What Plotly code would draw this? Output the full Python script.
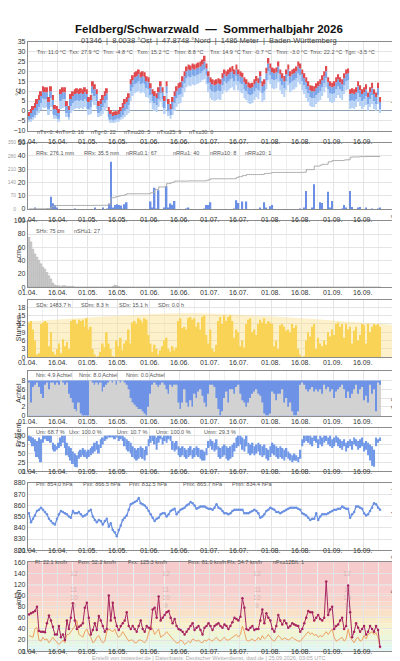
import numpy as np
import pandas as pd
import plotly.graph_objects as go

W, H = 400, 661
ML, MR = 19, 14
FONT = "Liberation Sans, Arial, sans-serif"
GRID = "#e4e4e4"
GRID_MINOR = "#efefef"
FRAME = "#8c8c8c"
DAY_MS = 86400000

# ---------------------------------------------------------------
# daily values 01.04. - 24.09.2026
# ---------------------------------------------------------------
t_max = [
    -0.5, 1, 2.5, 4, 6, 8, 10, 12.5, 12, 12,
    7, 12.5, 8, 3, 2.5, 1, 11, 12, 12, 5,
    2.5, 8.5, 10, 11, 11.5, 11, 11.5, 11, 12, 11,
    7, 8, 15, 13.5, 11, 5, 6, 8, 10, 11.5,
    2, 0.5, -0.7, -0.3, -0.2, 0.5, 2, 4, 6, 7,
    9, 16, 18, 19.5, 20, 21, 19.5, 20, 19.5, 17.5,
    17, 14, 11, 10, 9, 12, 15, 12, 7.5, 15,
    6, 3.5, 7, 10, 12.5, 14, 14.5, 17.5, 20, 22.5,
    23.5, 23, 24, 23.5, 24, 24.5, 25, 26, 27.9, 24,
    20, 17, 16, 15.5, 16, 16.5, 16, 19, 21, 20,
    21, 22, 22.7, 21, 23.5, 21, 20, 19.3, 17, 16,
    14.5, 14, 14.3, 16, 17.7, 16.5, 20, 15, 16, 21.8,
    26.8, 24, 22, 21.5, 22, 25, 21, 19, 17.7, 21,
    23.5, 20, 21, 21.5, 22.5, 25, 24, 21, 19, 17,
    15, 13, 12.7, 12.5, 14, 15, 16, 18, 20, 22.7,
    17, 15, 14.3, 15, 17, 18.5, 17, 16, 19, 21,
    21.5, 11, 11.5, 11, 12, 15, 13, 11, 12, 13.5,
    9.3, 12, 14.3, 11, 9.3, 14.3, 7,
]
t_mean = [
    -2.5, -1, 0.5, 1.5, 3.5, 5.5, 7.5, 10, 9.5, 9.5,
    4.5, 10, 5.5, 1, 0.5, -1, 8.5, 9.5, 9.5, 2.5,
    0.5, 6, 7.5, 8.5, 9, 8.5, 9, 8.5, 9.5, 8.5,
    4.5, 5.5, 12.5, 11, 8.5, 2.5, 3.5, 5.5, 7.5, 9,
    0, -1.5, -2.5, -2, -2, -1.5, 0, 1.5, 3.5, 4.5,
    6.5, 13.5, 15.5, 17, 17.5, 18.5, 17, 17.5, 17, 15,
    14.5, 11.5, 8.5, 7.5, 6.5, 9.5, 12.5, 9.5, 5, 12.5,
    3.5, 1, 4.5, 7.5, 10, 11.5, 12, 15, 17.5, 20,
    21, 20.5, 21.5, 21, 21.5, 22, 22.5, 23.5, 25, 21.5,
    17.5, 14.5, 13.5, 13, 13.5, 14, 13.5, 16.5, 18.5, 17.5,
    18.5, 19.5, 20, 18.5, 21, 18.5, 17.5, 17, 14.5, 13.5,
    12, 11.5, 12, 13.5, 15, 14, 17.5, 12.5, 13.5, 19,
    24, 21.5, 19.5, 19, 19.5, 22.5, 18.5, 16.5, 15, 18.5,
    21, 17.5, 18.5, 19, 20, 22.5, 21.5, 18.5, 16.5, 14.5,
    12.5, 10.5, 10, 10, 11.5, 12.5, 13.5, 15.5, 17.5, 20,
    14.5, 12.5, 12, 12.5, 14.5, 16, 14.5, 13.5, 16.5, 18.5,
    19, 8.5, 9, 8.5, 9.5, 12.5, 10.5, 8.5, 9.5, 11,
    7, 9.5, 11.5, 8.5, 7, 11.5, 4.5,
]
t_min = [
    -4.5, -4, -3, -2, 0, 2, 4, 6.5, 6, 6,
    1, 6.5, 2, -2, -2.5, -4, 5, 6, 6, -1,
    -3, 2.5, 4, 5, 5.5, 5, 5.5, 5, 6, 5,
    1, 2, 9, 7.5, 5, -1, 0, 2, 4, 5.5,
    -3, -4.5, -4.8, -4.5, -4, -4, -3, -2, 0, 1,
    3, 10, 12, 13.5, 14, 15, 13.5, 14, 13.5, 11.5,
    11, 8, 5, 4, 3, 6, 9, 6, 1.5, 9,
    0, -2, 1, 4, 6.5, 8, 8.5, 11.5, 14, 16.5,
    17.5, 17, 18, 17.5, 18, 18.5, 19, 20, 21, 18,
    14, 11, 10, 9.5, 10, 10.5, 10, 13, 15, 14,
    15, 16, 16.5, 15, 17.5, 15, 14, 13.5, 11, 10,
    8.5, 8, 8.5, 10, 11.5, 10.5, 14, 9, 10, 15.5,
    20, 18, 16, 15.5, 16, 19, 15, 13, 11.5, 15,
    17.5, 14, 15, 15.5, 16.5, 19, 18, 15, 13, 11,
    9, 7, 6.5, 6.5, 8, 9, 10, 12, 14, 16.5,
    11, 9, 8.5, 9, 11, 12.5, 11, 10, 13, 15,
    15.5, 5, 5.5, 5, 6, 9, 7, 5, 6, 7.5,
    3.5, 6, 8, 5, 3.5, 8, 1,
]
t_ground = [
    -5, -5, -4, -3, -2, -1, 0.5, 2, 1.5, 2,
    -2, 2, -1.5, -4, -4, -5, 1, 1.5, 2, -3,
    -4, -1, 0, 1, 1.5, 1, 1.5, 1, 2, 1,
    -2, -1.5, 4.5, 3, 1, -3, -2.5, -1.5, 0, 1.5,
    -4.5, -5.5, -6, -5.5, -5, -5, -4.5, -4, -3, -2,
    -1, 5, 7.5, 9, 9.5, 10, 9, 9.5, 9, 7,
    6.5, 4, 1, 0, -0.5, 2, 4.5, 2, -1.5, 4.5,
    -2.5, -4, -2, 0, 2, 3.5, 4, 7, 9.5, 12,
    13, 12.5, 13.5, 13, 13.5, 14, 14.5, 15.5, 16, 13.5,
    9.5, 6.5, 5.5, 5, 5.5, 6, 5.5, 8.5, 10.5, 9.5,
    10.5, 11.5, 12, 10.5, 13, 10.5, 9.5, 9, 6.5, 5.5,
    4, 3.5, 4, 5.5, 7, 6, 9.5, 4.5, 5.5, 11,
    15.5, 13.5, 11.5, 11, 11.5, 14.5, 10.5, 8.5, 7, 10.5,
    13, 9.5, 10.5, 11, 12, 14.5, 13.5, 10.5, 8.5, 6.5,
    4.5, 2.5, 2, 2, 3.5, 4.5, 5.5, 7.5, 9.5, 12,
    6.5, 4.5, 4, 4.5, 6.5, 8, 6.5, 5.5, 8.5, 10.5,
    11, 1, 1.5, 1, 2, 4.5, 2.5, 1, 2, 3,
    0, 2, 3.5, 1, 0, 3.5, -1,
]
precip = [
    0, 0, 0, 0.3, 0, 0, 0, 0, 0, 0.2,
    0.2, 9.2, 4.2, 3, 1, 0, 0, 0, 0, 0,
    0, 0, 0, 0.1, 0, 0, 0, 0, 0, 0,
    0, 0, 0, 0.5, 0, 0, 0, 0.3, 0, 0.2,
    4, 35.5, 0.5, 3, 3.5, 3, 2.5, 0.2, 3.5, 5,
    0, 0, 0, 0, 0, 0, 0, 0, 0, 0,
    0, 5.5, 0.3, 16, 0.2, 14, 0, 0, 0.4, 17,
    0.5, 4, 3, 6, 0, 0, 0, 0, 0, 0.1,
    1, 0, 0, 0, 0, 0, 0, 0, 0.2, 3,
    3, 5, 0, 0, 0, 0, 0, 0, 0, 0,
    0, 0, 0, 0.2, 6.5, 4.5, 0, 5.5, 0, 5.5,
    0, 0, 0, 0, 0, 0, 0.3, 0, 5, 1,
    0, 2, 3, 0, 0, 0, 0, 0, 0, 0,
    0, 0, 0, 0, 0, 0, 0.2, 0, 1, 13.5,
    0, 0, 0.3, 18.5, 0, 0, 5, 4.5, 0, 0,
    13, 0.4, 6, 0, 0, 0, 0, 0.2, 3, 1,
    0, 13.5, 1.5, 0, 0, 0.3, 1.5, 0, 0, 0.5,
    0, 0, 0.2, 0, 0, 0.1, 0.4,
]
snow = [
    75, 68, 57, 50, 45, 40, 35, 30, 27, 22,
    17, 12, 6, 3, 2, 2, 1, 2, 2, 1,
    1, 1, 1, 0, 0, 0, 0, 0, 0, 0,
    0, 0, 0, 0, 0, 0, 0, 0, 0, 0,
    0, 0, 1, 3, 2, 1, 0, 0, 0, 0,
] + [0] * 127
sunshine = [
    12.5, 13, 10, 6, 1, 1.5, 12, 12.5, 13, 12.5,
    4, 9, 2, 1, 3, 5, 1.5, 6.5, 4, 5.5,
    3, 13, 13.5, 13.5, 12, 13.5, 13, 13.5, 11, 14,
    10, 11, 3, 1, 0, 0.5, 2, 5, 3.5, 9,
    5, 3, 0.5, 0, 6, 4, 7, 2.5, 5, 6,
    10, 5, 12.5, 13, 12, 14, 13.5, 12.5, 14, 13.5,
    8, 5, 2, 4.5, 3, 1, 2.5, 4, 6, 7,
    3, 2, 4, 2.5, 3.5, 13, 14, 10.5, 11, 10,
    14, 14.5, 13.5, 14, 11, 12.5, 10, 14.5, 15, 8,
    5, 10, 3, 2, 4.5, 13, 14.5, 12, 15, 13,
    14.5, 15.1, 13, 7, 10, 9, 4, 6, 3.5, 12,
    13.5, 14, 9, 10, 8, 12, 13.5, 12.5, 14, 12,
    13, 12.5, 12, 4, 6, 3, 11.5, 12, 11, 9.5,
    10, 9, 12, 10.5, 11.5, 3, 1, 0, 0.5, 6,
    9, 7.5, 11, 12, 3, 7, 5, 4, 6, 4.5,
    9, 7.5, 10, 8, 12, 12.5, 11, 12, 7, 12,
    10, 11, 5, 9.5, 11, 6, 8, 12, 11.5, 5,
    12, 9, 11, 12, 11.5, 12, 11,
]
# astronomically possible sunshine (day length), h
daylen_dates = ["2026-04-01", "2026-04-16", "2026-05-01", "2026-05-16", "2026-06-01",
                "2026-06-16", "2026-07-01", "2026-07-16", "2026-08-01", "2026-08-16",
                "2026-09-01", "2026-09-16", "2026-10-01"]
daylen_hours = [12.9, 13.6, 14.3, 14.9, 15.5, 15.8, 15.7, 15.3, 14.7, 14.0, 13.2, 12.4, 11.7]

cloud = [
    7.5, 3, 6.5, 7, 7.5, 6.5, 5, 4, 7, 7.5,
    6, 7.5, 7.5, 7, 7.5, 7, 8, 7.5, 7, 7.5,
    5, 4, 3, 1.5, 1, 3, 0.5, 0, 0, 0,
    0, 8, 7.5, 7, 7.5, 7, 7.5, 5.5, 6.5, 7,
    7.5, 8, 7.5, 8, 7, 8, 7.5, 8, 7.5, 7,
    6, 4, 3, 2.5, 2, 1.5, 1.5, 1, 0.5, 0,
    2, 5, 7, 7.5, 7, 6.5, 7, 7.5, 7, 6,
    5, 7, 6.5, 7, 7, 3, 1.5, 3, 6, 3,
    2, 3.5, 2, 5, 4, 5.5, 6, 4.5, 3, 2,
    5, 7, 7, 6.5, 4, 1.5, 0, 1, 4, 5.5,
    3, 6, 6, 5, 6.5, 7, 5, 3.5, 3, 2,
    3, 4, 5, 5.5, 6, 5, 4.5, 3, 0.5, 0,
    0, 0.5, 5.5, 5, 3.5, 5, 5, 6, 3, 4,
    2, 3, 1, 0, 0, 1, 7, 7.5, 7, 6,
    5.5, 6, 6.5, 5.5, 6, 5.5, 6, 5, 7, 6,
    6.5, 5.5, 6, 4, 5.5, 6, 6.5, 7, 6, 4,
    5.5, 4, 5, 6, 7, 5, 6, 6.5, 3.5, 4.5,
    3, 7, 5, 6, 1, 7.5, 7,
]
CLOUD_FULL = 8  # octas

hum_max = [
    100, 98, 95, 90, 85, 95, 90, 100, 100, 100,
    100, 100, 80, 75, 70, 80, 95, 100, 100, 80,
    70, 65, 55, 50, 45, 55, 60, 65, 60, 55,
    60, 65, 70, 80, 85, 75, 90, 95, 100, 100,
    100, 100, 100, 100, 100, 100, 100, 100, 95, 90,
    85, 80, 70, 65, 60, 65, 70, 65, 60, 70,
    90, 100, 100, 100, 95, 100, 100, 95, 100, 100,
    100, 100, 85, 80, 85, 70, 65, 70, 65, 60,
    65, 70, 60, 65, 70, 65, 60, 60, 55, 65,
    85, 90, 85, 80, 90, 70, 65, 70, 75, 70,
    65, 70, 75, 80, 95, 100, 100, 95, 90, 100,
    80, 75, 80, 70, 75, 80, 75, 70, 75, 65,
    60, 70, 80, 75, 70, 65, 70, 65, 60, 65,
    55, 50, 45, 50, 45, 40, 60, 90, 100, 100,
    100, 100, 95, 100, 100, 90, 100, 95, 100, 100,
    95, 100, 90, 95, 100, 95, 90, 85, 90, 80,
    85, 90, 85, 95, 90, 85, 90, 95, 80, 85,
    80, 75, 70, 60, 95, 90, 95,
]
hum_min = [
    85, 80, 70, 55, 40, 35, 25, 80, 90, 85,
    85, 80, 60, 55, 60, 65, 70, 80, 65, 45,
    40, 30, 20, 12, 10.7, 35, 40, 45, 40, 35,
    40, 45, 50, 55, 60, 50, 65, 75, 85, 90,
    95, 97, 95, 90, 95, 85, 90, 85, 70, 60,
    55, 50, 40, 35, 30, 35, 40, 35, 30, 45,
    70, 80, 85, 75, 60, 80, 90, 75, 85, 80,
    90, 85, 60, 55, 60, 45, 40, 45, 40, 35,
    40, 45, 35, 40, 45, 40, 35, 30, 30, 45,
    65, 70, 60, 55, 60, 40, 35, 40, 45, 35,
    30, 35, 40, 55, 65, 70, 75, 60, 55, 70,
    50, 45, 50, 45, 50, 55, 45, 40, 45, 35,
    30, 40, 50, 45, 40, 35, 40, 35, 30, 40,
    35, 30, 25, 30, 29, 25, 35, 70, 80, 85,
    80, 75, 70, 85, 80, 65, 75, 70, 80, 85,
    75, 70, 65, 70, 80, 70, 65, 60, 70, 55,
    65, 70, 60, 75, 70, 60, 65, 70, 55, 60,
    45, 30, 15, 12, 70, 80, 85,
]
pressure = [
    853, 845, 848, 851, 855, 856, 858, 856, 854, 852,
    848, 846, 844, 843, 848, 852, 855, 854, 853, 852,
    850, 849, 855, 853, 853, 854, 852, 850, 851, 852,
    855, 856, 850, 847, 845, 847, 846, 843, 846, 848,
    841, 844, 838, 836, 832.5, 838, 842, 847, 849, 851,
    856, 861, 862, 863, 864, 866.5, 862, 861, 860, 858,
    855, 852, 849, 846, 848, 849, 852, 853, 853, 850,
    852, 855, 856, 857, 852, 854, 856, 857, 858, 860,
    861, 863, 862, 860, 857, 858, 859, 859, 859, 858,
    857, 857, 856, 858, 861, 858, 857, 855, 853, 853,
    852, 853, 855, 856, 856, 856, 856, 856, 853, 853,
    853, 854, 855, 856, 855, 853, 849, 850, 852, 855,
    856, 858, 857, 856, 854, 854, 853, 854, 855, 856,
    857, 858, 858, 858, 858, 857, 856, 853, 852, 851,
    849, 847, 848, 848, 853, 847, 850, 852, 852, 852,
    853, 854, 855, 856, 856, 857, 857, 859, 858, 857,
    857, 849, 852, 854, 859, 859, 858, 857, 853, 851,
    852, 855, 858, 862, 861, 858, 856,
]
wind_gust = [
    66, 68, 70, 72, 80, 36, 35, 35, 34, 50,
    64, 55, 44, 30, 30, 45, 25, 30, 20, 55,
    40, 60, 86, 55, 40, 44, 46, 50, 78, 87,
    60, 30, 38, 50, 38, 63, 55, 45, 35, 40,
    100, 55, 87, 60, 45, 38, 45, 50, 55, 70,
    45, 40, 45, 40, 35, 45, 55, 40, 35, 45,
    42, 40, 75, 78, 60, 98, 55, 60, 65, 70,
    72, 60, 50, 58, 45, 40, 38, 35, 30, 35,
    40, 45, 50, 38, 42, 45, 38, 30, 42, 45,
    50, 45, 38, 45, 48, 50, 45, 42, 48, 45,
    40, 45, 52, 60, 58, 55, 62, 95, 78, 40,
    38, 42, 45, 38, 40, 40, 55, 75, 50, 68,
    60, 55, 40, 35, 45, 65, 55, 48, 55, 50,
    42, 45, 50, 48, 46, 45, 35, 40, 50, 60,
    72, 70, 70, 55, 60, 65, 58, 55, 60, 125.3,
    65, 75, 80, 40, 45, 48, 55, 60, 40, 45,
    118, 70, 25, 35, 50, 42, 35, 40, 45, 30,
    35, 45, 40, 35, 45, 38, 8,
]
wind_mean = [
    28, 27, 25, 40, 43, 20, 18, 25, 20, 22,
    15, 20, 25, 20, 15, 12, 15, 20, 15, 30,
    30, 35, 40, 45, 55, 30, 28, 25, 35, 40,
    30, 25, 15, 18, 25, 28, 20, 15, 18, 35,
    40, 38, 35, 40, 30, 25, 28, 35, 30, 25,
    18, 20, 20, 15, 15, 20, 20, 18, 15, 20,
    35, 45, 40, 30, 35, 40, 25, 28, 30, 35,
    30, 25, 22, 18, 15, 15, 20, 18, 12, 15,
    18, 15, 22, 20, 18, 20, 16, 15, 20, 18,
    22, 20, 18, 22, 25, 20, 18, 22, 25, 20,
    20, 22, 25, 28, 30, 25, 30, 45, 35, 20,
    18, 20, 22, 18, 20, 25, 20, 28, 22, 25,
    30, 25, 20, 18, 22, 28, 25, 20, 24, 22,
    20, 22, 25, 22, 20, 18, 18, 22, 28, 32,
    35, 30, 33, 28, 30, 25, 28, 26, 30, 35,
    30, 35, 40, 25, 18, 20, 22, 25, 18, 22,
    40, 25, 20, 15, 22, 25, 18, 20, 28, 22,
    30, 32, 35, 30, 33, 25, 5,
]

# Beaufort classes (km/h) for the wind background
bft_edges = [0, 1, 6, 12, 20, 29, 39, 50, 62, 75, 89, 103, 118, 160]
bft_colors = ["#dff6f6", "#dff6f4", "#e1f6ee", "#e5f6e2", "#ebf6da", "#f1f5d3",
              "#f7f2cd", "#f9eac8", "#f9e1c7", "#f9d9c9", "#f8d3cc", "#f7cfcf", "#f5cbcc"]

TICK_DATES = ["2026-04-01", "2026-04-16", "2026-05-01", "2026-05-16", "2026-06-01",
              "2026-06-16", "2026-07-01", "2026-07-16", "2026-08-01", "2026-08-16",
              "2026-09-01", "2026-09-16"]
X_RANGE = ["2026-04-01", "2026-10-01 12:00"]

stats = {
    1: ["Tm: 11.0 °C", "Txx: 27.9 °C", "Tnn: -4.8 °C", "Txm: 15.2 °C", "Tnm: 8.8 °C",
        "Tnx: 14.9 °C", "Txn: -0.7 °C", "Tmn: -3.0 °C", "Tmx: 22.2 °C", "Tgn: -3.5 °C"],
    2: ["RRs: 276.1 mm", "RRx: 35.5 mm", "nRR≥0.1: 67", "nRR≥1: 40", "nRR≥10: 8", "nRR≥20: 1"],
    3: ["SHx: 75 cm", "nSH≥1: 27"],
    4: ["SDs: 1483.7 h", "SDm: 8.3 h", "SDx: 15.1 h", "SDn: 0.0 h"],
    5: ["Nm: 4.9 Achtel", "Nmx: 8.0 Achtel", "Nmn: 0.0 Achtel"],
    6: ["Um: 68.7 %", "Uxx: 100.0 %", "Unn: 10.7 %", "Umx: 100.0 %", "Umn: 29.3 %"],
    7: ["Pm: 854.0 hPa", "Pxx: 866.5 hPa", "Pnn: 832.5 hPa", "Pmx: 865.7 hPa", "Pmn: 834.4 hPa"],
    8: ["Ff: 22.1 km/h", "Fxm: 52.2 km/h", "Fxx: 125.3 km/h", "Fmx: 81.0 km/h",
        "Ffx: 54.7 km/h", "nFx≥12Bft: 1"],
}
temp_counts = ["nTx<0: 4", "nTn<0: 16", "nTg<0: 22", "nTm≥20: 5", "nTx≥25: 9", "nTx≥30: 0"]

dates = pd.date_range("2026-04-01 12:00", periods=len(t_max), freq="D")
n = len(dates)
for arr in (t_mean, t_min, t_ground, precip, snow, sunshine, cloud,
            hum_max, hum_min, pressure, wind_gust, wind_mean):
    assert len(arr) == n, len(arr)


def px_x(px):
    return (px - ML) / (W - ML - MR)


def px_y(py):
    return 1 - py / H


# panel: (top px, bottom px, y range, tick values, left title, right title)
panels = {
    1: (30, 120, [-10, 35], list(range(-10, 36, 5)), "°C", "Temperatur"),
    2: (132, 199, [0, 50], list(range(0, 51, 10)), "", "Niederschlag"),
    3: (211, 278, [0, 100], list(range(0, 101, 20)), "cm", "Schneehöhe"),
    4: (291, 349, [0, 20.6], list(range(0, 19, 3)), "Stunden", "Sonnenscheindauer"),
    5: (363, 408, [0, 10.1], list(range(0, 9, 2)), "Achtel", "Bedeckungsgrad"),
    6: (420, 464, [0, 123], list(range(0, 101, 25)), "Prozent", "Luftfeuchte"),
    7: (476, 544, [820, 880], list(range(820, 881, 10)), "", "Luftdruck (Station)"),
    8: (556, 646, [0, 160], list(range(0, 161, 20)), "km/h", "Windgeschwindigkeit"),
}
stat_pos = {
    1: (35, [26, 58, 92, 126, 163, 199, 232, 266, 300, 335]),
    2: (137, [25, 73, 115, 162, 199, 235]),
    3: (216, [25, 63]),
    4: (296, [25, 70, 108, 147]),
    5: (367, [25, 68, 115]),
    6: (424, [25, 58, 106, 145, 193]),
    7: (482, [25, 72, 118, 172, 222]),
    8: (561, [24, 67, 117, 177, 217, 263]),
}

ticks = pd.to_datetime(TICK_DATES)
minor_ticks = list(ticks[:-1] + (ticks[1:] - ticks[:-1]) / 2) + [ticks[-1] + pd.Timedelta(days=7.5)]


def ax_name(k):
    return "" if k == 1 else str(k)


fig = go.Figure()

# --- Temperatur
fig.add_trace(go.Bar(x=dates, y=[a - b for a, b in zip(t_min, t_ground)], base=t_ground,
                     width=DAY_MS, marker=dict(color="#b8d2f5", line_width=0),
                     xaxis="x", yaxis="y"))
fig.add_trace(go.Bar(x=dates, y=[a - b for a, b in zip(t_mean, t_min)], base=t_min,
                     width=DAY_MS, marker=dict(color="#7ea7ea", line_width=0),
                     xaxis="x", yaxis="y"))
fig.add_trace(go.Bar(x=dates, y=[a - b for a, b in zip(t_max, t_mean)], base=t_mean,
                     width=DAY_MS, marker=dict(color="#e04a4e", line_width=0),
                     xaxis="x", yaxis="y"))

# --- Niederschlag
fig.add_trace(go.Bar(x=dates, y=precip, width=0.75 * DAY_MS,
                     marker=dict(color="#6b8fe4", line_width=0), xaxis="x2", yaxis="y2"))
fig.add_trace(go.Scatter(x=dates, y=np.cumsum(precip), mode="lines",
                         line=dict(color="#ababab", width=1, shape="hv"),
                         xaxis="x2", yaxis="y9"))

# --- Schneehöhe
fig.add_trace(go.Bar(x=dates, y=snow, width=0.8 * DAY_MS,
                     marker=dict(color="#d6d6d6", line=dict(color="#a0a0a0", width=0.5)),
                     xaxis="x3", yaxis="y3"))

# --- Sonnenscheindauer
fig.add_trace(go.Scatter(x=pd.to_datetime(daylen_dates), y=daylen_hours, mode="lines",
                         line=dict(width=0, shape="spline"), fill="tozeroy",
                         fillcolor="rgba(251,225,140,0.45)", xaxis="x4", yaxis="y4"))
fig.add_trace(go.Bar(x=dates, y=sunshine, width=0.85 * DAY_MS,
                     marker=dict(color="#f6c92a", line_width=0), xaxis="x4", yaxis="y4"))

# --- Bedeckungsgrad
fig.add_trace(go.Bar(x=dates, y=[CLOUD_FULL] * n, width=0.9 * DAY_MS,
                     marker=dict(color="#6e93e6", line_width=0), xaxis="x5", yaxis="y5"))
fig.add_trace(go.Bar(x=dates, y=cloud, width=0.9 * DAY_MS,
                     marker=dict(color="#d2d2d2", line_width=0), xaxis="x5", yaxis="y5"))

# --- Luftfeuchte
fig.add_trace(go.Bar(x=dates, y=[a - b for a, b in zip(hum_max, hum_min)], base=hum_min,
                     width=DAY_MS, marker=dict(color="#7299e7", line_width=0),
                     xaxis="x6", yaxis="y6"))

# --- Luftdruck
fig.add_trace(go.Scatter(x=dates, y=pressure, mode="lines+markers",
                         line=dict(color="#6a90e2", width=1.3),
                         marker=dict(size=2.5, color="#6a90e2"), xaxis="x7", yaxis="y7"))

# --- Wind
fig.add_trace(go.Scatter(x=dates, y=wind_mean, mode="lines",
                         line=dict(color="#eda062", width=1), xaxis="x8", yaxis="y8"))
fig.add_trace(go.Scatter(x=dates, y=wind_gust, mode="lines+markers",
                         line=dict(color="#a62460", width=1),
                         marker=dict(size=2.5, color="#a62460"), xaxis="x8", yaxis="y8"))

shapes = []
for lo, hi, col in zip(bft_edges[:-1], bft_edges[1:], bft_colors):
    shapes.append(dict(type="rect", xref="x8 domain", yref="y8", x0=0, x1=1, y0=lo, y1=hi,
                       fillcolor=col, line_width=0, layer="below"))

annotations = [
    dict(text="<b>Feldberg/Schwarzwald  —  Sommerhalbjahr 2026</b>", x=px_x(200), y=px_y(9),
         font=dict(size=11.5, color="#111")),
    dict(text="01346  |  8.0038 °Ost  |  47.8748 °Nord  |  1486 Meter  |  Baden-Württemberg",
         x=px_x(200), y=px_y(22), font=dict(size=7.5, color="#444")),
    dict(text="Erstellt von mowetter.de | Datenbasis: Deutscher Wetterdienst, dwd.de | 25.09.2026, 03:05 UTC",
         x=px_x(200), y=px_y(657.5), font=dict(size=5.5, color="#aaaaaa")),
]
for k, (top, bottom, rng, tv, ltitle, rtitle) in panels.items():
    mid = (top + bottom) / 2
    annotations.append(dict(text=rtitle, x=px_x(393), y=px_y(mid), textangle=90,
                            font=dict(size=7, color="#555")))
    if ltitle:
        annotations.append(dict(text=ltitle, x=px_x(4), y=px_y(mid), textangle=-90,
                                font=dict(size=7, color="#333")))
    py, xs = stat_pos[k]
    for text, xp in zip(stats[k], xs):
        annotations.append(dict(text=text, x=px_x(xp), y=px_y(py), xanchor="left",
                                font=dict(size=5.5, color="#555")))
    # date labels just under each panel, placed on that panel's date axis
    for t in ticks:
        annotations.append(dict(text=t.strftime("%d.%m."), x=t, xref="x" + ax_name(k),
                                y=px_y(bottom + 5.5), font=dict(size=7, color="#333")))
for text, xp in zip(temp_counts, [26, 48, 80, 113, 146, 178]):
    annotations.append(dict(text=text, x=px_x(xp), y=px_y(116), xanchor="left",
                            font=dict(size=5.5, color="#555")))
# Beaufort numbers in the wind panel
for d in ["2026-04-24", "2026-06-09", "2026-07-25", "2026-09-08"]:
    for b in (9, 10, 11, 12):
        annotations.append(dict(text=str(b), x=d, y=(bft_edges[b] + bft_edges[b + 1]) / 2,
                                xref="x8", yref="y8", showarrow=False,
                                font=dict(size=7, color="rgba(190,150,150,0.55)")))

for a in annotations:
    a.setdefault("xref", "paper")
    a.setdefault("yref", "paper")
    a["showarrow"] = False

layout = dict(
    width=W, height=H, margin=dict(l=ML, r=MR, t=0, b=0),
    paper_bgcolor="white", plot_bgcolor="white",
    font=dict(family=FONT, size=7, color="#333"),
    showlegend=False, barmode="overlay", hovermode=False,
    shapes=shapes, annotations=annotations,
)
for k, (top, bottom, rng, tv, ltitle, rtitle) in panels.items():
    layout["xaxis" + ax_name(k)] = dict(
        domain=[0, 1], anchor="y" + ax_name(k), type="date", range=X_RANGE,
        tickvals=TICK_DATES, showticklabels=False, ticks="",
        showgrid=True, gridcolor=GRID, gridwidth=1,
        minor=dict(tickvals=minor_ticks, showgrid=True, gridcolor=GRID_MINOR),
        showline=True, mirror=True, linecolor=FRAME, linewidth=1.3, zeroline=False,
    )
    layout["yaxis" + ax_name(k)] = dict(
        domain=[px_y(bottom), px_y(top)], anchor="x" + ax_name(k), range=rng,
        tickvals=tv, tickfont=dict(size=7, color="#333"), ticks="",
        showgrid=True, gridcolor=GRID, gridwidth=1,
        showline=True, mirror=True, linecolor=FRAME, linewidth=1.3,
        zeroline=(k == 1), zerolinecolor="#8ea2b6", zerolinewidth=1,
    )
layout["yaxis9"] = dict(
    overlaying="y2", anchor="x2", side="left", range=[0, 350],
    tickvals=list(range(0, 351, 70)), tickfont=dict(size=5, color="#a0a0a0"),
    ticklabelstandoff=11, showgrid=False, zeroline=False, showline=False, ticks="",
)

fig.update_layout(**layout)
fig.write_html("out.html")
